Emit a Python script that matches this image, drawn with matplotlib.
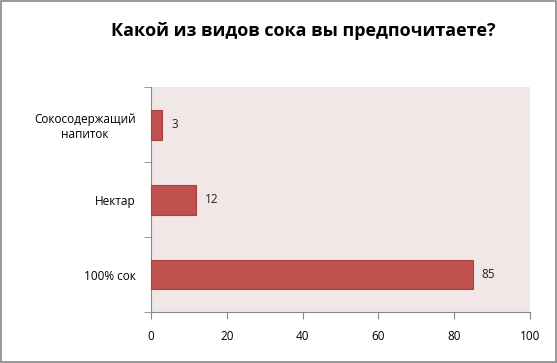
import matplotlib.pyplot as plt
from matplotlib.patches import Rectangle

categories = ["100% сок", "Нектар", "Сокосодержащий\nнапиток"]
values = [85, 12, 3]
xticks = [0, 20, 40, 60, 80, 100]

plt.rcParams['font.family'] = ['Open Sans', 'DejaVu Sans']

fig = plt.figure(figsize=(5.57, 3.63), dpi=100)
ax = fig.add_axes([0.2711, 0.1405, 0.6804, 0.6198])
ax.set_facecolor('#F2E7E7')

pos = list(range(len(categories)))
ax.barh(pos, values, height=0.4, color='#C0504D', edgecolor='#A8403D', linewidth=0.8, zorder=3)
for p, v in zip(pos, values):
    ax.text(v + 2.3, p, str(v), va='center', ha='left', fontsize=8.5, color='#222222')

ax.set_xlim(0, 100)
ax.set_ylim(-0.5, 2.5)
ax.set_xticks(xticks)
ax.set_xticklabels([str(t) for t in xticks], fontsize=8.5)
ax.set_yticks(pos)
ax.set_yticklabels(categories, fontsize=8.5, multialignment='center')
ax.tick_params(axis='y', length=0, pad=11)
ax.set_yticks([-0.5, 0.5, 1.5, 2.5], minor=True)
ax.tick_params(axis='y', which='minor', length=5, color='#888888', direction='out')
ax.tick_params(axis='x', length=5, color='#888888', direction='out', pad=8)

for s in ['top', 'right']:
    ax.spines[s].set_visible(False)
for s in ['left', 'bottom']:
    ax.spines[s].set_color('#888888')
    ax.spines[s].set_linewidth(0.8)

fig.text(0.545, 0.915, "Какой из видов сока вы предпочитаете?", ha='center', va='center',
         fontsize=13, fontweight='bold')

fig.patches.append(Rectangle((0.001, 0.002), 0.997, 0.995, transform=fig.transFigure,
                             fill=False, edgecolor='#888888', linewidth=1.2))

fig.savefig('out.png', dpi=100)
